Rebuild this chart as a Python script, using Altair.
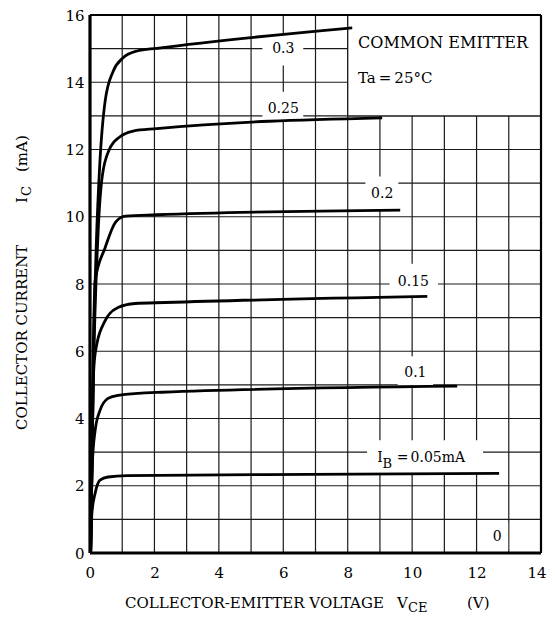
import altair as alt
import pandas as pd

# ---------------- data ----------------
ib_labels = ["0.05", "0.1", "0.15", "0.2", "0.25", "0.3"]

vce_005 = [0.02, 0.06, 0.16, 0.31, 0.56, 1.15, 6.8, 12.7]
ic_005 = [0.0, 1.2, 1.78, 2.17, 2.26, 2.3, 2.34, 2.37]

vce_01 = [0.02, 0.07, 0.16, 0.31, 0.56, 0.87, 2.23, 11.4]
ic_01 = [0.0, 2.6, 3.65, 4.24, 4.6, 4.69, 4.78, 4.96]

vce_015 = [0.02, 0.1, 0.16, 0.47, 0.87, 1.4, 2.33, 10.47]
ic_015 = [0.0, 5.1, 5.93, 6.91, 7.3, 7.42, 7.45, 7.63]

vce_02 = [0.02, 0.1, 0.16, 0.47, 0.8, 1.1, 2.07, 9.63]
ic_02 = [0.0, 6.0, 8.1, 9.08, 9.85, 10.02, 10.06, 10.2]

vce_025 = [0.02, 0.1, 0.25, 0.38, 0.6, 0.93, 1.34, 2.07, 9.07]
ic_025 = [0.0, 5.0, 9.5, 11.2, 12.0, 12.38, 12.55, 12.62, 12.94]

vce_03 = [0.02, 0.1, 0.2, 0.3, 0.47, 0.72, 1.02, 1.46, 2.08, 8.14]
ic_03 = [0.0, 5.5, 9.3, 11.5, 13.44, 14.33, 14.72, 14.93, 15.01, 15.62]

# curve labels (text, x [V], y [mA])
lbl_text = ["0.3", "0.25", "0.2", "0.15", "0.1", "0"]
lbl_x = [6.0, 6.0, 9.07, 10.04, 10.1, 12.64]
lbl_y = [15.0, 13.2, 10.68, 8.07, 5.34, 0.47]

# label "I_B = 0.05mA"
ib_main = ["I", "=", "0.05mA"]
ib_main_x = [8.92, 9.52, 9.95]
ib_main_y = [2.82, 2.82, 2.82]
ib_sub = ["B"]
ib_sub_x = [9.08]
ib_sub_y = [2.64]

# white areas behind labels (x1, x2, y1, y2) in data units
bg_x1 = [5.35, 5.35, 8.55, 9.3, 9.55, 8.6, 12.3, 8.0]
bg_x2 = [6.62, 6.62, 9.57, 10.8, 10.65, 12.2, 12.98, 14.0]
bg_y1 = [14.5, 12.85, 10.2, 7.65, 5.0, 2.37, 0.1, 13.0]
bg_y2 = [15.4, 13.72, 11.2, 8.6, 5.85, 3.35, 0.9, 16.0]

# legend box border segments
box_x1 = [8.0, 8.0]
box_x2 = [8.0, 14.0]
box_y1 = [13.0, 13.0]
box_y2 = [16.0, 13.0]

box_text = ["COMMON EMITTER", "Ta\u2009=\u200925°C"]
box_text_x = [8.32, 8.32]
box_text_y = [15.16, 14.12]
box_text_size = [16, 15]

grid_v = list(range(1, 14))
grid_i = list(range(1, 16))
x_ticks = [0, 2, 4, 6, 8, 10, 12, 14]
y_ticks = [0, 2, 4, 6, 8, 10, 12, 14, 16]

x_title = ["COLLECTOR-EMITTER VOLTAGE", "V", "CE", "(V)"]
y_title = ["COLLECTOR CURRENT", "I", "C", "(mA)"]

# ---------------- tables ----------------
curves = pd.concat([
    pd.DataFrame({"v": vs, "i": cs, "ib": lab})
    for vs, cs, lab in [
        (vce_005, ic_005, ib_labels[0]), (vce_01, ic_01, ib_labels[1]),
        (vce_015, ic_015, ib_labels[2]), (vce_02, ic_02, ib_labels[3]),
        (vce_025, ic_025, ib_labels[4]), (vce_03, ic_03, ib_labels[5]),
    ]
], ignore_index=True)

grid_df = pd.concat([
    pd.DataFrame({"x1": grid_v, "x2": grid_v, "y1": [0] * len(grid_v), "y2": [16] * len(grid_v)}),
    pd.DataFrame({"x1": [0] * len(grid_i), "x2": [14] * len(grid_i), "y1": grid_i, "y2": grid_i}),
], ignore_index=True)

frame_df = pd.DataFrame({
    "x1": [0, 0, 14, 0], "x2": [0, 14, 14, 14],
    "y1": [0, 0, 0, 16], "y2": [16, 0, 16, 16], "w": [3.2, 3.2, 2.2, 2.2],
})

bg_df = pd.DataFrame({"x1": bg_x1, "x2": bg_x2, "y1": bg_y1, "y2": bg_y2})
box_df = pd.DataFrame({"x1": box_x1, "x2": box_x2, "y1": box_y1, "y2": box_y2})
lbl_df = pd.DataFrame({"t": lbl_text, "x": lbl_x, "y": lbl_y})
ibm_df = pd.DataFrame({"t": ib_main, "x": ib_main_x, "y": ib_main_y})
ibs_df = pd.DataFrame({"t": ib_sub, "x": ib_sub_x, "y": ib_sub_y})
boxt_df = pd.DataFrame({"t": box_text, "x": box_text_x, "y": box_text_y, "s": box_text_size})

FONT = "DejaVu Serif"
xs = alt.Scale(domain=[0, 14], nice=False, zero=False)
ys = alt.Scale(domain=[0, 16], nice=False, zero=False)

x_axis = alt.Axis(values=x_ticks, title=None, grid=False, domain=False, ticks=False,
                  labelPadding=12, labelFlush=True, labelFlushOffset=5, format="d")
y_axis = alt.Axis(values=y_ticks, title=None, grid=False, domain=False, ticks=False,
                  labelPadding=6, labelFlush=False, format="d", labelBaseline="middle")


def seg_layer(df, color, width):
    return alt.Chart(df).mark_rule(color=color, strokeWidth=width).encode(
        x=alt.X("x1:Q", scale=xs, axis=x_axis), x2="x2:Q",
        y=alt.Y("y1:Q", scale=ys, axis=y_axis), y2="y2:Q",
    )


grid = seg_layer(grid_df, "#1a1a1a", 1.2)

bg = alt.Chart(bg_df).mark_rect(color="white").encode(
    x=alt.X("x1:Q", scale=xs), x2="x2:Q", y=alt.Y("y1:Q", scale=ys), y2="y2:Q"
)

box = seg_layer(box_df, "#1a1a1a", 1.3)

lines = alt.Chart(curves).mark_line(color="black", strokeWidth=2.8, interpolate="monotone").encode(
    x=alt.X("v:Q", scale=xs), y=alt.Y("i:Q", scale=ys), detail="ib:N"
)

labels = alt.Chart(lbl_df).mark_text(font=FONT, fontSize=14, color="black", baseline="middle").encode(
    x=alt.X("x:Q", scale=xs), y=alt.Y("y:Q", scale=ys), text="t:N"
)

ibm = alt.Chart(ibm_df).mark_text(font=FONT, fontSize=14, color="black", baseline="middle", align="left").encode(
    x=alt.X("x:Q", scale=xs), y=alt.Y("y:Q", scale=ys), text="t:N"
)
ibs = alt.Chart(ibs_df).mark_text(font=FONT, fontSize=13, color="black", baseline="middle", align="left").encode(
    x=alt.X("x:Q", scale=xs), y=alt.Y("y:Q", scale=ys), text="t:N"
)
boxt = alt.Chart(boxt_df).mark_text(font=FONT, color="black", baseline="middle", align="left").encode(
    x=alt.X("x:Q", scale=xs), y=alt.Y("y:Q", scale=ys), text="t:N",
    size=alt.Size("s:Q", scale=None),
)

frame = alt.Chart(frame_df).mark_rule(color="black").encode(
    x=alt.X("x1:Q", scale=xs), x2="x2:Q", y=alt.Y("y1:Q", scale=ys), y2="y2:Q",
    strokeWidth=alt.StrokeWidth("w:Q", scale=None),
)

one = pd.DataFrame({"k": [0]})


def ptext(txt, x, y, size, angle=0):
    kw = dict(text=txt, font=FONT, fontSize=size, color="black", align="left", baseline="middle")
    if angle:
        kw["angle"] = angle
    return alt.Chart(one).mark_text(**kw).encode(x=alt.value(x), y=alt.value(y))


titles = [
    ptext(x_title[0], 35, 588, 15),
    ptext(x_title[1], 307, 588, 15),
    ptext(x_title[2], 318, 593, 13),
    ptext(x_title[3], 377, 588, 15),
    ptext(y_title[0], -68, 415, 15, 270),
    ptext(y_title[1], -68, 188, 15, 270),
    ptext(y_title[2], -63, 181, 13, 270),
    ptext(y_title[3], -68, 157, 15, 270),
]

chart = alt.layer(grid, bg, box, lines, labels, ibm, ibs, boxt, frame, *titles).properties(
    width=451, height=538,
    padding={"left": 82, "top": 7, "right": 6, "bottom": 61},
    autosize=alt.AutoSizeParams(type="none"),
    background="white",
).configure_view(stroke=None).configure_axis(
    labelFont=FONT, labelFontSize=15, labelColor="black"
)

chart.save("out.html", embed_options={"renderer": "svg", "actions": False})
